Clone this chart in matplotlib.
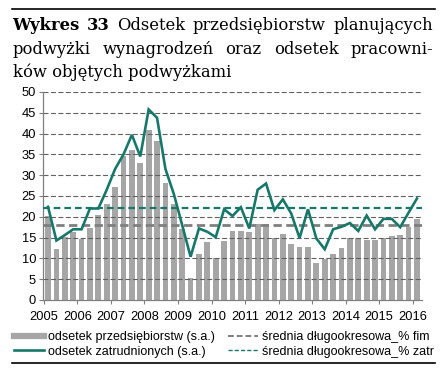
import numpy as np
import matplotlib
matplotlib.use("Agg")
import matplotlib.pyplot as plt
from matplotlib.lines import Line2D

# quarterly data 2005Q1 - 2016Q1
firms = [20.2, 12.2, 15.1, 16.4, 14.6, 17.2, 20.4, 23.1, 27.2, 34.6, 36.0, 33.0,
         40.9, 38.2, 28.2, 23.0, 17.0, 5.4, 11.0, 13.9, 10.2, 14.2, 16.7, 16.7,
         16.3, 18.3, 18.3, 15.0, 15.9, 13.5, 12.7, 12.7, 8.8, 9.9, 11.1, 12.5,
         14.9, 14.9, 14.4, 14.4, 15.0, 15.5, 15.6, 17.6, 19.5]
employees = [22.4, 14.3, 15.6, 17.0, 17.0, 22.0, 22.0, 26.5, 31.5, 35.0, 39.7, 34.5,
             45.8, 43.8, 31.5, 25.5, 18.0, 10.4, 17.2, 16.4, 15.1, 21.8, 20.2, 22.3,
             17.2, 26.5, 28.0, 21.6, 24.2, 20.8, 14.9, 21.8, 14.8, 12.2, 17.0, 17.6,
             18.5, 16.6, 20.3, 17.0, 19.5, 19.5, 17.5, 21.0, 24.4]
avg_firms = 18.0
avg_employees = 22.0
years = [str(y) for y in range(2005, 2017)]

labels = ["odsetek przedsiębiorstw (s.a.)", "odsetek zatrudnionych (s.a.)",
          "średnia długookresowa_% fim", "średnia długookresowa_% zatr"]

title_lines = [
    [("Wykres", "bold"), ("33", "bold"), ("Odsetek", "normal"), ("przedsiębiorstw", "normal"),
     ("planujących", "normal")],
    [("podwyżki", "normal"), ("wynagrodzeń", "normal"), ("oraz", "normal"),
     ("odsetek", "normal"), ("pracowni-", "normal")],
    [("ków objętych podwyżkami", "normal")],
]

BAR = "#A6A6A6"
GREEN = "#17786A"
GRID = "#606060"

plt.rcParams["font.family"] = ["Liberation Sans", "DejaVu Sans"]

fig = plt.figure(figsize=(4.4, 3.75), dpi=100)
W, H = 440.0, 375.0
ax = fig.add_axes([43 / W, 1 - 300 / H, (422 - 43) / W, (300 - 92) / H])

x = np.arange(len(firms))
ax.bar(x, firms, width=0.68, color=BAR, zorder=1)
ax.plot(x, employees, color=GREEN, lw=1.9, zorder=4, solid_joinstyle="miter")
ax.axhline(avg_firms, color="#7F7F7F", lw=2.0, dashes=(3, 1.6), zorder=3)
ax.axhline(avg_employees, color=GREEN, lw=1.6, dashes=(3, 1.8), zorder=3)

ax.set_ylim(0, 50)
ax.set_xlim(-0.6, len(firms) - 0.4)
ax.set_yticks(range(0, 51, 5))
for v in range(5, 51, 5):
    ax.axhline(v, color=GRID, lw=0.8, dashes=(4.5, 2.2), zorder=2)

ax.set_xticks(np.arange(len(years)) * 4 - 0.5)
ax.set_xticklabels(years)
ax.tick_params(axis="both", labelsize=9.3, colors="#7F7F7F", labelcolor="black",
               length=3, width=0.8, direction="out", pad=2)
ax.tick_params(axis="x", pad=5)
for s in ["top", "right"]:
    ax.spines[s].set_visible(False)
for s in ["left", "bottom"]:
    ax.spines[s].set_color("#7F7F7F")
    ax.spines[s].set_linewidth(0.9)

handles = [
    Line2D([], [], color=BAR, lw=4.5),
    Line2D([], [], color=GREEN, lw=1.9),
    Line2D([], [], color="#7F7F7F", lw=1.4, dashes=(3, 1.5)),
    Line2D([], [], color=GREEN, lw=1.0, dashes=(3, 1.5)),
]
fig.legend(handles, labels, ncol=2, loc="upper left", bbox_to_anchor=(14 / W, 1 - 331 / H),
           frameon=False, fontsize=9.0, handlelength=2.4, handletextpad=0.3,
           columnspacing=1.1, borderpad=0, borderaxespad=0, labelspacing=0.2)

# horizontal rules
fig.add_artist(Line2D([12 / W, 435 / W], [1 - 9 / H, 1 - 9 / H], color="black", lw=1.2))
fig.add_artist(Line2D([12 / W, 435 / W], [1 - 363 / H, 1 - 363 / H], color="black", lw=1.2))

# justified title
fig.canvas.draw()
renderer = fig.canvas.get_renderer()
x0, x1 = 12.5 / W, 433 / W
baselines = [30, 53.5, 77]
for i, words in enumerate(title_lines):
    y = 1 - baselines[i] / H
    texts = [fig.text(0, y, w, fontsize=11.8, fontweight=wt, family="DejaVu Serif",
                      va="baseline") for w, wt in words]
    if len(texts) == 1:
        texts[0].set_x(x0)
        continue
    widths = [t.get_window_extent(renderer).width / fig.bbox.width for t in texts]
    gap = (x1 - x0 - sum(widths)) / (len(texts) - 1)
    pos = x0
    for t, w in zip(texts, widths):
        t.set_x(pos)
        pos += w + gap

fig.savefig("out.png", dpi=100)
